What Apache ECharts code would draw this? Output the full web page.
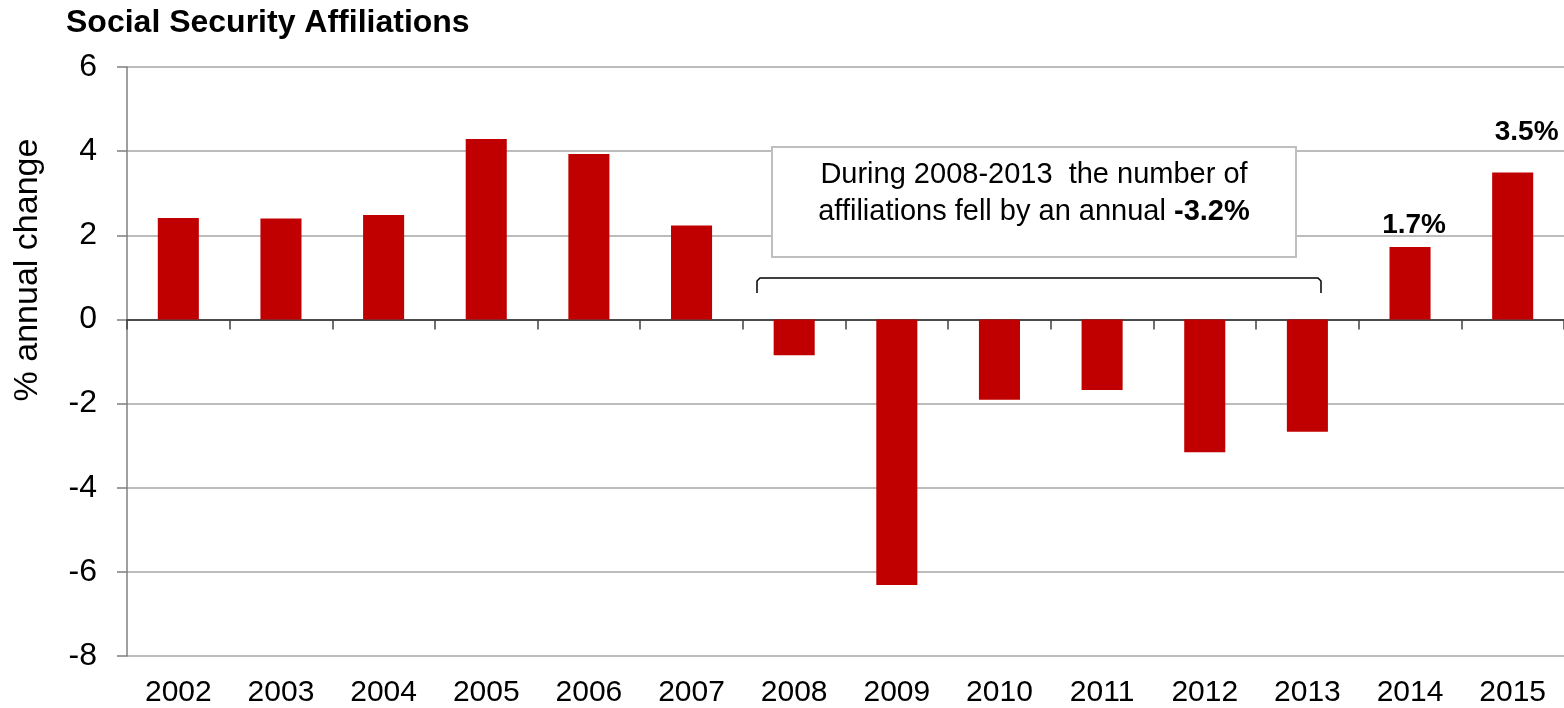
<!DOCTYPE html>
<html>
<head>
<meta charset="utf-8">
<title>Social Security Affiliations</title>
<script src="https://cdn.jsdelivr.net/npm/echarts@6/dist/echarts.min.js"></script>
<style>
  html,body{margin:0;padding:0;background:#fff;}
  #main{width:1564px;height:708px;}
</style>
</head>
<body>
<div id="main"></div>
<script>
var years = ['2002','2003','2004','2005','2006','2007','2008','2009','2010','2011','2012','2013','2014','2015'];
var changes = [2.41, 2.40, 2.48, 4.29, 3.93, 2.23, -0.85, -6.31, -1.91, -1.68, -3.16, -2.67, 1.72, 3.49];
var barLabels = ['', '', '', '', '', '', '', '', '', '', '', '', '1.7%', '3.5%'];
var yTicks = {min: -8, max: 6, step: 2};

var FONT = '"Liberation Sans", Arial, sans-serif';

var chart = echarts.init(document.getElementById('main'));

// bars, only the last two carry a label
var barData = changes.map(function(v, i){
	var item = {value: v};
	if (barLabels[i]) {
		item.label = {
			show: true,
			position: 'top',
			distance: i == 13 ? 26 : 8,
			offset: i == 13 ? [14, 0] : [4, 0],
			formatter: barLabels[i],
			fontFamily: FONT,
			fontWeight: 'bold',
			fontSize: 28,
			color: '#000'
		};
	}
	return item;
});

var option = {
	backgroundColor: '#fff',
	animation: false,
	grid: {left: 127, right: 0, top: 67, bottom: 51, containLabel: false},
	xAxis: [{
		// labels along the bottom
		type: 'category',
		data: years,
		position: 'bottom',
		axisLine: {show: false, onZero: false},
		axisTick: {show: false},
		axisLabel: {
			margin: 22,
			fontFamily: FONT,
			fontSize: 30,
			color: '#000'
		}
	}, {
		// the zero line with its ticks
		type: 'category',
		data: years,
		position: 'bottom',
		axisLine: {show: true, onZero: true, lineStyle: {color: '#262626', width: 1.5}},
		axisTick: {show: true, length: 10, lineStyle: {color: '#404040', width: 1.5}},
		axisLabel: {show: false}
	}],
	yAxis: {
		type: 'value',
		min: yTicks.min,
		max: yTicks.max,
		interval: yTicks.step,
		axisLine: {show: true, lineStyle: {color: '#7f7f7f', width: 1.5}},
		axisTick: {show: true, length: 10, lineStyle: {color: '#7f7f7f', width: 1.5}},
		splitLine: {show: true, lineStyle: {color: '#a6a6a6', width: 1.5}},
		axisLabel: {margin: 30, fontFamily: FONT, fontSize: 32, color: '#000'}
	},
	series: [{
		type: 'bar',
		xAxisIndex: 0,
		data: barData,
		barWidth: '40%',
		itemStyle: {color: '#C00000'}
	}],
	graphic: [{
		type: 'text',
		left: 66,
		top: 7,
		style: {text: 'Social Security Affiliations', fontFamily: FONT, fontWeight: 'bold', fontSize: 32, fill: '#000'}
	}, {
		type: 'text',
		x: 28,
		y: 270,
		rotation: Math.PI / 2,
		style: {
			text: '% annual change',
			fontFamily: FONT,
			fontSize: 34,
			fill: '#000',
			align: 'center',
			verticalAlign: 'middle'
		}
	}, {
		/***** note box *****/
		type: 'rect',
		z: 10,
		shape: {x: 772, y: 147, width: 524, height: 110},
		style: {fill: '#fff', stroke: '#bfbfbf', lineWidth: 2}
	}, {
		type: 'text',
		z: 11,
		x: 1034,
		y: 193,
		style: {
			text: 'During 2008-2013  the number of\naffiliations fell by an annual {b|-3.2%}',
			fontFamily: FONT,
			fontSize: 29,
			lineHeight: 37,
			fill: '#000',
			align: 'center',
			verticalAlign: 'middle',
			rich: {b: {fontFamily: FONT, fontSize: 29, fontWeight: 'bold', fill: '#000', lineHeight: 37}}
		}
	}, {
		/***** bracket over 2008-2013 *****/
		type: 'polyline',
		z: 10,
		shape: {points: [[757, 293], [757, 281], [760, 278], [1318, 278], [1321, 281], [1321, 293]]},
		style: {stroke: '#000', lineWidth: 1.5, fill: null}
	}]
};

chart.setOption(option);
</script>
</body>
</html>
